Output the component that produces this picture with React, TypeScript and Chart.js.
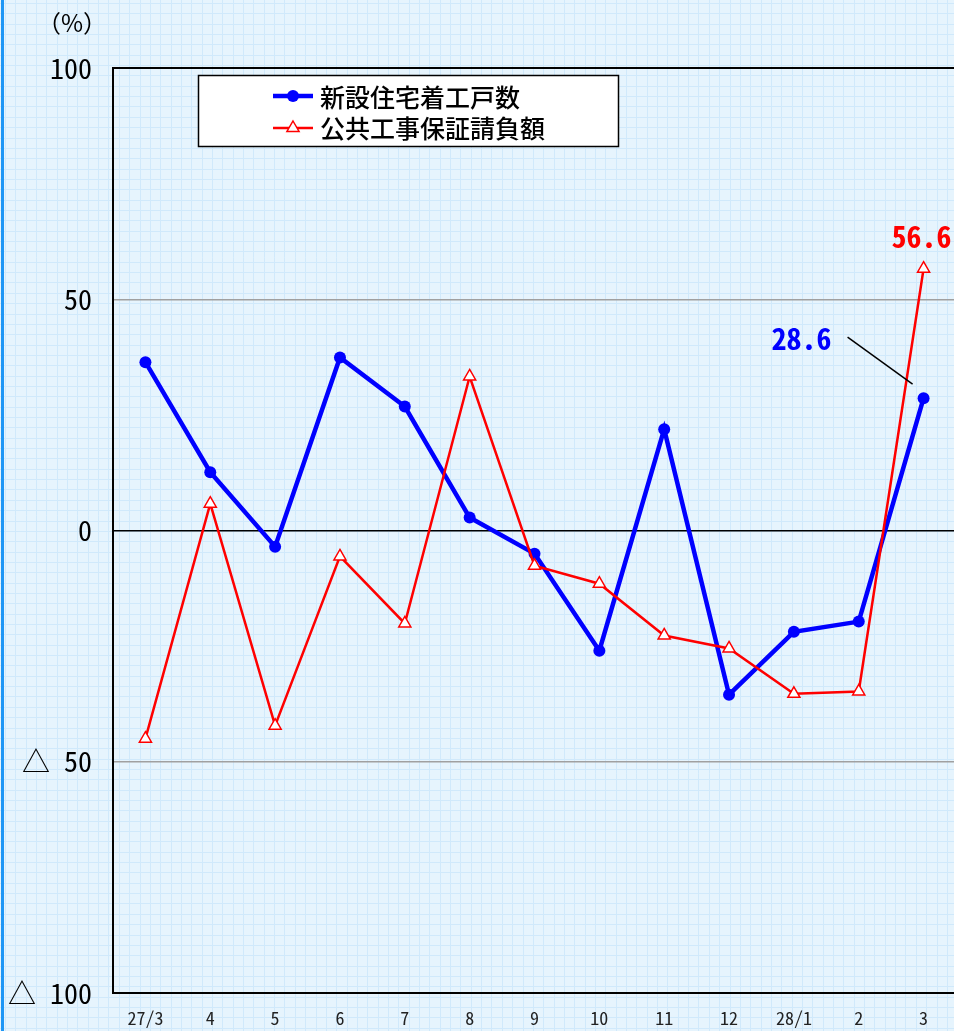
import React, { useEffect, useRef } from "react";
import { Chart, registerables } from "chart.js";

Chart.register(...registerables);

const categories = ["27/3", "4", "5", "6", "7", "8", "9", "10", "11", "12", "28/1", "2", "3"];
const housingStarts = [36.4, 12.6, -3.5, 37.4, 26.8, 2.8, -5.0, -26.0, 21.9, -35.5, -21.9, -19.7, 28.6];
const publicWorks = [-45.0, 5.8, -42.2, -5.6, -20.1, 33.3, -7.6, -11.5, -22.7, -25.5, -35.3, -34.8, 56.6];
const seriesNames = ["新設住宅着工戸数", "公共工事保証請負額"];
const yTicks = [100, 50, 0, -50, -100];

const MONO = '"Noto Sans Mono CJK JP", "Liberation Sans Narrow", "Noto Sans CJK JP", sans-serif';
const CJK = '"Noto Sans CJK JP", sans-serif';

const W = 972;
const H = 1031;

const bgPlugin = {
  id: "bgPlugin",
  beforeDraw(chart: any) {
    const ctx = chart.ctx;
    ctx.save();
    ctx.fillStyle = "#e6f4fd";
    ctx.fillRect(0, 0, W, H);
    ctx.strokeStyle = "#d0e9fb";
    ctx.lineWidth = 1;
    const step = 10.35;
    ctx.beginPath();
    for (let x = 5; x < W; x += step) {
      const px = Math.round(x) + 0.5;
      ctx.moveTo(px, 0);
      ctx.lineTo(px, H);
    }
    for (let y = 3; y < H; y += step) {
      const py = Math.round(y) + 0.5;
      ctx.moveTo(0, py);
      ctx.lineTo(W, py);
    }
    ctx.stroke();
    ctx.fillStyle = "#1e96f5";
    ctx.fillRect(1, 0, 3, H);
    ctx.fillStyle = "#000";
    ctx.font = "24px " + CJK;
    ctx.textAlign = "center";
    ctx.textBaseline = "middle";
    ctx.fillText("（%）", 72, 23);
    ctx.restore();
  },
};

const overlayPlugin = {
  id: "overlayPlugin",
  afterDatasetsDraw(chart: any) {
    const ctx = chart.ctx;
    const xs = chart.scales.x;
    const ys = chart.scales.y;
    const ca = chart.chartArea;
    ctx.save();
    // frame: top and bottom lines
    ctx.strokeStyle = "#000";
    ctx.lineWidth = 2;
    ctx.beginPath();
    ctx.moveTo(ca.left - 1, Math.round(ca.top));
    ctx.lineTo(W, Math.round(ca.top));
    ctx.moveTo(ca.left - 1, Math.round(ca.bottom));
    ctx.lineTo(W, Math.round(ca.bottom));
    ctx.stroke();
    // legend box
    ctx.fillStyle = "#ffffff";
    ctx.fillRect(198, 75, 420, 71);
    ctx.lineWidth = 1.5;
    ctx.strokeRect(198.5, 75.5, 420, 71);
    ctx.strokeStyle = "#0000ff";
    ctx.lineWidth = 4.5;
    ctx.beginPath();
    ctx.moveTo(273, 96);
    ctx.lineTo(313, 96);
    ctx.stroke();
    ctx.fillStyle = "#0000ff";
    ctx.beginPath();
    ctx.arc(293, 96, 6, 0, Math.PI * 2);
    ctx.fill();
    ctx.strokeStyle = "#ff0000";
    ctx.lineWidth = 2.5;
    ctx.beginPath();
    ctx.moveTo(273, 128);
    ctx.lineTo(313, 128);
    ctx.stroke();
    const r = 7;
    ctx.fillStyle = "#fff";
    ctx.lineWidth = 1.5;
    ctx.beginPath();
    ctx.moveTo(293, 128 - r);
    ctx.lineTo(293 + r * 0.866, 128 + r * 0.5);
    ctx.lineTo(293 - r * 0.866, 128 + r * 0.5);
    ctx.closePath();
    ctx.fill();
    ctx.stroke();
    ctx.fillStyle = "#000";
    ctx.font = "500 25px " + CJK;
    ctx.textAlign = "left";
    ctx.textBaseline = "middle";
    ctx.fillText(seriesNames[0], 320, 97);
    ctx.fillText(seriesNames[1], 320, 128);

    // value annotations for the last point
    const last = categories.length - 1;
    const lx = xs.getPixelForValue(last);
    const redY = ys.getPixelForValue(publicWorks[last]);
    const blueY = ys.getPixelForValue(housingStarts[last]);
    ctx.font = "bold 30px " + MONO;
    ctx.textAlign = "center";
    ctx.fillStyle = "#ff0000";
    ctx.fillText(publicWorks[last].toFixed(1), lx - 2, redY - 32);
    ctx.fillStyle = "#0000ff";
    ctx.fillText(housingStarts[last].toFixed(1), lx - 122, blueY - 60);
    ctx.strokeStyle = "#000";
    ctx.lineWidth = 1.5;
    ctx.beginPath();
    ctx.moveTo(lx - 76, blueY - 61);
    ctx.lineTo(lx - 11, blueY - 14);
    ctx.stroke();
    ctx.restore();
  },
};

export default function App() {
  const ref = useRef<HTMLCanvasElement | null>(null);
  useEffect(() => {
    if (!ref.current) return;
    const chart = new Chart(ref.current, {
      type: "line",
      data: {
        labels: categories,
        datasets: [
          {
            label: seriesNames[1],
            data: publicWorks,
            borderColor: "#ff0000",
            borderWidth: 2.5,
            pointStyle: "triangle",
            pointRadius: 7,
            pointBackgroundColor: "#ffffff",
            pointBorderColor: "#ff0000",
            pointBorderWidth: 1.5,
            tension: 0,
          },
          {
            label: seriesNames[0],
            data: housingStarts,
            borderColor: "#0000ff",
            borderWidth: 4.5,
            pointStyle: "circle",
            pointRadius: 6,
            pointBackgroundColor: "#0000ff",
            pointBorderColor: "#0000ff",
            pointBorderWidth: 0,
            tension: 0,
          },
        ],
      },
      options: {
        responsive: false,
        animation: false,
        layout: { padding: { top: 68, right: 16, left: 0, bottom: 0 } },
        plugins: { legend: { display: false }, tooltip: { enabled: false } },
        scales: {
          x: {
            offset: true,
            grid: { display: false, drawTicks: false },
            border: { display: false },
            ticks: {
              padding: 14,
              color: "#222",
              font: { family: MONO, size: 18 },
              maxRotation: 0,
              autoSkip: false,
            },
            afterFit(scale: any) {
              scale.height = 38;
            },
          },
          y: {
            min: -100,
            max: 100,
            afterBuildTicks(scale: any) {
              scale.ticks = yTicks.map((v) => ({ value: v }));
            },
            grid: {
              drawTicks: false,
              color: (c: any) => {
                const v = c.tick && c.tick.value;
                if (v === 0) return "#000";
                if (v === 50 || v === -50) return "#a0a0a0";
                return "rgba(0,0,0,0)";
              },
              lineWidth: 1.5,
            },
            border: { display: true, color: "#000", width: 2 },
            ticks: {
              padding: 21,
              color: "#000",
              font: { family: MONO, size: 28 },
              callback: (v: any) => (Number(v) < 0 ? "△ " + -Number(v) : String(v)),
            },
            afterFit(scale: any) {
              scale.width = 113;
            },
          },
        },
      },
      plugins: [bgPlugin, overlayPlugin],
    });
    return () => chart.destroy();
  }, []);
  return (
    <div style={{ position: "absolute", left: 0, top: 0, width: 954, height: H, overflow: "hidden" }}>
      <canvas ref={ref} width={W} height={H} style={{ display: "block" }} />
    </div>
  );
}
